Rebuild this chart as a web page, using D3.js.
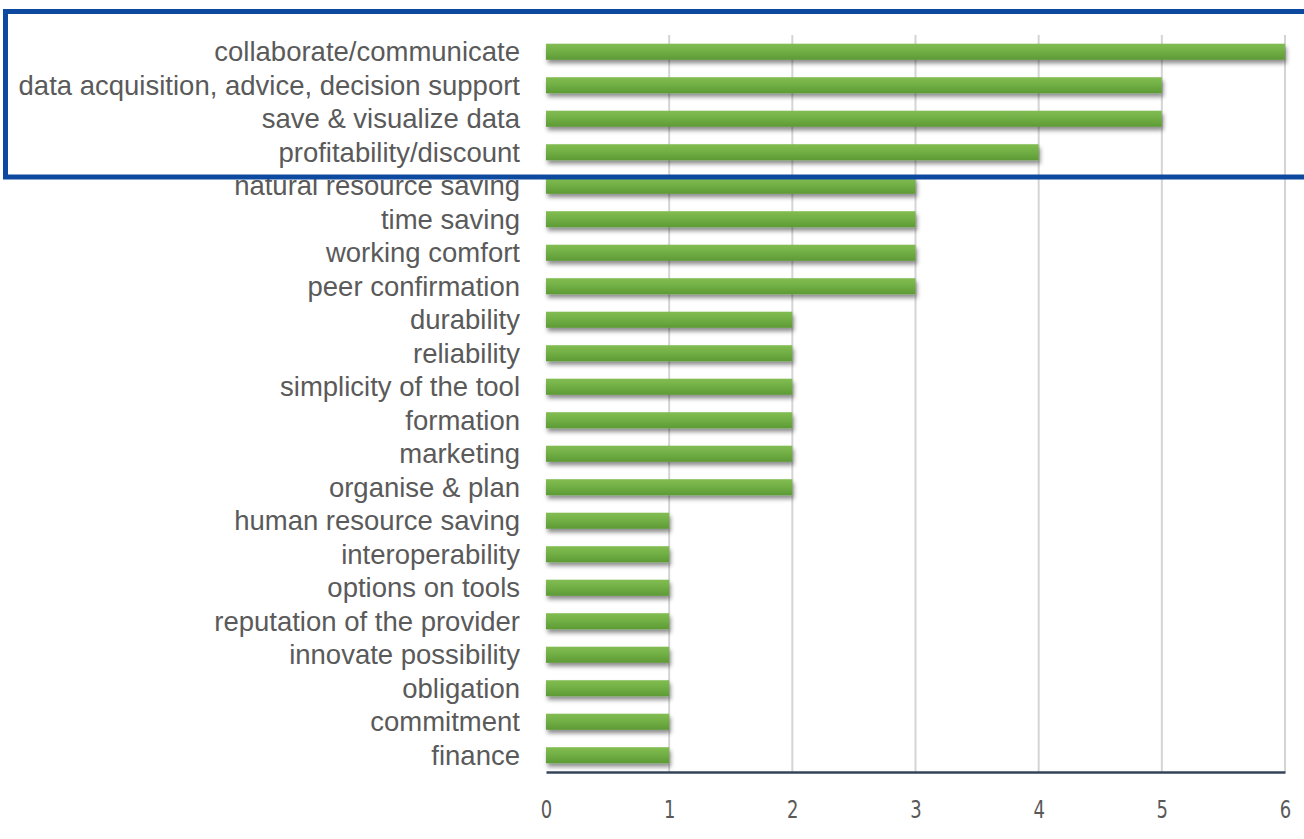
<!DOCTYPE html>
<html>
<head>
<meta charset="utf-8">
<script src="https://cdn.jsdelivr.net/npm/d3@7"></script>
<style>
  html, body { margin: 0; padding: 0; background: #ffffff; }
  svg { display: block; }
</style>
</head>
<body>
<svg id="chart" width="1304" height="839"></svg>
<script>
// Reasons for tool adoption (counts of mentions)
const categories = [
  "collaborate/communicate",
  "data acquisition, advice, decision support",
  "save & visualize data",
  "profitability/discount",
  "natural resource saving",
  "time saving",
  "working comfort",
  "peer confirmation",
  "durability",
  "reliability",
  "simplicity of the tool",
  "formation",
  "marketing",
  "organise & plan",
  "human resource saving",
  "interoperability",
  "options on tools",
  "reputation of the provider",
  "innovate possibility",
  "obligation",
  "commitment",
  "finance"
];
const counts = [6, 5, 5, 4, 3, 3, 3, 3, 2, 2, 2, 2, 2, 2, 1, 1, 1, 1, 1, 1, 1, 1];
const xTicks = [0, 1, 2, 3, 4, 5, 6];

const svg = d3.select("#chart");
const margin = { left: 546, right: 19, top: 35, bottom: 67 };
const W = 1304, H = 839;

const x = d3.scaleLinear().domain([0, 6]).range([margin.left, W - margin.right]);
const y = d3.scaleBand().domain(categories)
  .range([margin.top, H - margin.bottom])
  .paddingInner(0.52).paddingOuter(0.26);

const defs = svg.append("defs");
const grad = defs.append("linearGradient")
  .attr("id", "barFill").attr("x1", 0).attr("y1", 0).attr("x2", 0).attr("y2", 1);
grad.append("stop").attr("offset", "0%").attr("stop-color", "#82bd52");
grad.append("stop").attr("offset", "50%").attr("stop-color", "#70ae44");
grad.append("stop").attr("offset", "100%").attr("stop-color", "#5d9a35");

const shadow = defs.append("filter").attr("id", "barShadow")
  .attr("x", "-5%").attr("y", "-50%").attr("width", "110%").attr("height", "220%");
shadow.append("feDropShadow")
  .attr("dx", 1.5).attr("dy", 3.5).attr("stdDeviation", 2)
  .attr("flood-color", "#000").attr("flood-opacity", 0.45);

// vertical gridlines
svg.append("g").selectAll("line")
  .data(xTicks.filter(d => d > 0))
  .join("line")
  .attr("x1", d => x(d)).attr("x2", d => x(d))
  .attr("y1", margin.top).attr("y2", H - margin.bottom)
  .attr("stroke", "#d4d4d4").attr("stroke-width", 2);

// bars
svg.append("g").selectAll("rect")
  .data(categories.map((c, i) => ({ c, v: counts[i] })))
  .join("rect")
  .attr("x", x(0))
  .attr("y", d => y(d.c))
  .attr("width", d => x(d.v) - x(0))
  .attr("height", y.bandwidth())
  .attr("fill", "url(#barFill)")
  .attr("filter", "url(#barShadow)");

// category labels
svg.append("g").selectAll("text")
  .data(categories)
  .join("text")
  .attr("x", 520)
  .attr("y", d => y(d) + y.bandwidth() / 2)
  .attr("dy", "0.35em")
  .attr("text-anchor", "end")
  .attr("font-family", "'Liberation Sans', Arial, sans-serif")
  .attr("font-size", 27.5)
  .attr("fill", "#5a5a5a")
  .text(d => d);

// x axis
const xAxis = svg.append("g")
  .attr("transform", `translate(0,${H - margin.bottom})`)
  .call(d3.axisBottom(x).tickValues(xTicks).tickFormat(d3.format("d"))
    .tickSize(0).tickPadding(28));
xAxis.select(".domain").attr("stroke", "#34435a").attr("stroke-width", 2.5);
xAxis.selectAll("text")
  .attr("font-family", "'Liberation Sans Narrow', 'DejaVu Sans Condensed', sans-serif")
  .attr("font-size", 25)
  .attr("transform", "scale(0.8,1)")
  .attr("fill", "#595959");

// highlight frame around the top four reasons
svg.append("rect")
  .attr("x", 5.5).attr("y", 11.5)
  .attr("width", 1320).attr("height", 165.5)
  .attr("fill", "none")
  .attr("stroke", "#0d4a9f")
  .attr("stroke-width", 5);
</script>
</body>
</html>
